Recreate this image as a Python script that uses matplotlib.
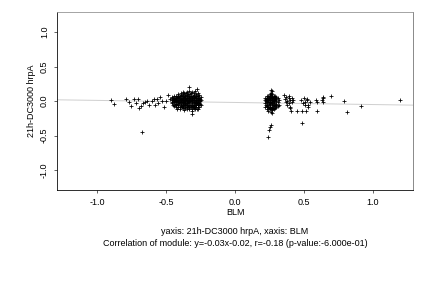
import numpy as np
import matplotlib
matplotlib.use('Agg')
import matplotlib.pyplot as plt

plt.rcParams['font.family'] = ['Liberation Sans', 'DejaVu Sans']

# --------------------------
# Data
# --------------------------
left_sparse_x = [-0.899, -0.875, -0.790, -0.768, -0.754, -0.732, -0.717, -0.703, -0.693, -0.679,
                 -0.669, -0.652, -0.636, -0.625, -0.604, -0.587, -0.578, -0.567, -0.556, -0.543,
                 -0.531, -0.514, -0.500, -0.483, -0.471, -0.672, -0.331, -0.278, -0.375, -0.309]
left_sparse_y = [0.014, -0.043, 0.025, -0.010, -0.072, 0.025, -0.025, 0.025, -0.106, -0.072,
                 -0.033, -0.014, 0.004, -0.054, 0.000, 0.025, -0.054, 0.033, -0.033, 0.054,
                 0.004, -0.091, 0.004, 0.083, 0.033, -0.445, 0.199, 0.174, 0.135, -0.188]

left_dense = {
    -0.46: [0.02, -0.03, 0.06],
    -0.455: [-0.01, 0.04],
    -0.45: [-0.05, 0.01, 0.04],
    -0.445: [0.07, -0.02],
    -0.44: [0.03, -0.07, 0.00],
    -0.435: [-0.04, 0.02, 0.05],
    -0.43: [0.05, -0.02, -0.09, 0.08],
    -0.425: [0.00, -0.06, 0.03],
    -0.42: [-0.04, 0.02, 0.06, -0.11],
    -0.415: [0.08, -0.01, -0.08],
    -0.41: [0.00, 0.04, -0.06, 0.10],
    -0.405: [-0.03, 0.06, 0.02],
    -0.40: [-0.08, 0.03, -0.02, 0.07, -0.12],
    -0.395: [0.00, -0.05, 0.09],
    -0.39: [0.05, -0.04, 0.01, 0.11, -0.07],
    -0.385: [-0.02, 0.03, -0.09, 0.07],
    -0.38: [-0.01, 0.08, -0.10, 0.04, -0.05],
    -0.375: [0.01, -0.03, 0.10, -0.07],
    -0.37: [0.02, -0.06, 0.12, 0.06, -0.02, -0.13],
    -0.365: [-0.04, 0.03, 0.08, -0.10],
    -0.36: [-0.03, 0.05, 0.09, -0.09, 0.00],
    -0.355: [0.01, -0.06, 0.11, 0.04],
    -0.35: [0.07, -0.05, 0.02, -0.11, 0.13, -0.01],
    -0.345: [-0.03, 0.05, -0.08, 0.09],
    -0.34: [-0.07, 0.04, 0.00, 0.10, -0.03],
    -0.335: [0.02, -0.05, 0.07, -0.10],
    -0.33: [0.03, -0.08, 0.15, -0.12, 0.06, -0.02],
    -0.325: [0.00, 0.10, -0.06, 0.04],
    -0.32: [-0.05, 0.01, 0.08, -0.09, 0.11],
    -0.315: [0.03, -0.02, 0.06, -0.12],
    -0.31: [0.05, -0.03, 0.13, -0.14, 0.00, -0.07],
    -0.305: [-0.05, 0.02, 0.08, -0.09],
    -0.30: [-0.01, 0.09, -0.10, 0.04, -0.05],
    -0.295: [0.01, -0.07, 0.11, 0.05],
    -0.29: [0.06, -0.08, 0.02, 0.14, -0.12, -0.03],
    -0.285: [-0.02, 0.04, 0.08, -0.06],
    -0.28: [-0.04, 0.10, 0.00, -0.09, 0.05],
    -0.275: [0.02, -0.03, 0.07, -0.12],
    -0.27: [0.03, -0.06, 0.12, -0.11, -0.01, 0.07],
    -0.265: [-0.05, 0.01, 0.04, -0.09],
    -0.26: [-0.03, 0.05, 0.01, -0.08, 0.09],
    -0.255: [0.00, -0.04, 0.03],
    -0.25: [0.02, -0.05, 0.06],
}

right_dense = {
    0.22: [0.02, -0.03, 0.05, -0.08],
    0.225: [0.00, -0.05, 0.03],
    0.23: [-0.05, 0.07, 0.00, -0.11, 0.04],
    0.235: [0.02, -0.07, 0.05, -0.02],
    0.24: [0.03, -0.09, -0.02, 0.08, -0.14],
    0.245: [-0.04, 0.01, 0.06, -0.10],
    0.25: [-0.06, 0.01, 0.10, -0.12, 0.05, -0.03],
    0.255: [0.03, -0.08, -0.01, 0.07],
    0.26: [0.04, -0.10, -0.01, 0.09, -0.16, 0.12],
    0.265: [-0.03, 0.02, 0.06, -0.12],
    0.27: [-0.04, 0.06, 0.01, -0.13, 0.10, -0.08],
    0.275: [0.00, -0.05, 0.04, -0.10],
    0.28: [0.02, -0.07, 0.08, -0.02, -0.11],
    0.285: [-0.03, 0.03, 0.06],
    0.29: [-0.05, 0.05, -0.10, 0.01, 0.07],
    0.295: [0.00, -0.06],
    0.30: [0.03, -0.04, -0.09, 0.06],
    0.31: [-0.02, 0.04, -0.07],
    0.32: [0.01, -0.05],
}

right_sparse_x = [0.36, 0.37, 0.37, 0.38, 0.38, 0.39, 0.39, 0.40, 0.40, 0.41, 0.41, 0.42,
                  0.357, 0.393, 0.399, 0.406, 0.447,
                  0.48, 0.49, 0.50, 0.51, 0.52, 0.53, 0.483, 0.512, 0.507, 0.531, 0.483, 0.519,
                  0.543, 0.587, 0.592, 0.628, 0.635, 0.640, 0.635, 0.597, 0.693, 0.792, 0.809,
                  0.915, 1.196,
                  0.266, 0.261, 0.254, 0.249, 0.241, 0.261, 0.266]
right_sparse_y = [0.03, -0.02, 0.06, 0.00, -0.06, 0.04, -0.03, 0.02, -0.08, 0.05, -0.01, 0.01,
                  0.087, 0.072, -0.106, -0.14, -0.14,
                  0.02, -0.03, 0.04, -0.01, 0.03, -0.05, -0.145, -0.145, -0.058, -0.083, -0.323, 0.014,
                  -0.01, 0.014, -0.02, 0.014, 0.04, -0.01, 0.054, -0.145, 0.072, 0.004, -0.164,
                  -0.077, 0.014,
                  -0.178, -0.348, -0.372, -0.42, -0.517, 0.16, 0.145]

slope, intercept = -0.03, -0.02
x_ticks = [-1.0, -0.5, 0.0, 0.5, 1.0]
y_ticks = [-1.0, -0.5, 0.0, 0.5, 1.0]

x_all = list(left_sparse_x) + list(right_sparse_x)
y_all = list(left_sparse_y) + list(right_sparse_y)
for grp in (left_dense, right_dense):
    for xv, ys in grp.items():
        x_all += [xv] * len(ys)
        y_all += ys

# --------------------------
# Figure
# --------------------------
fig = plt.figure(figsize=(6, 4), dpi=72)
ax = fig.add_axes([0.132, 0.34, 0.824, 0.618])
lim = 1.29
ax.set_xlim(-lim, lim)
ax.set_ylim(-lim, lim)

xl = np.array([-lim, lim])
ax.plot(xl, slope * xl + intercept, color='#d0d0d0', lw=1.0, zorder=1)
ax.plot(x_all, y_all, linestyle='none', marker='+', color='black',
        markersize=4.5, markeredgewidth=0.8, zorder=2)

ax.set_xticks(x_ticks)
ax.set_xticklabels([f'{v:.1f}' for v in x_ticks])
ax.set_yticks(y_ticks)
ax.set_yticklabels([f'{v:.1f}' for v in y_ticks], rotation=90, va='center')
ax.tick_params(labelsize=9, length=3, width=0.6, pad=5)

ax.spines['left'].set_color('black')
ax.spines['bottom'].set_color('black')
ax.spines['top'].set_color('#909090')
ax.spines['right'].set_color('#707070')
for s in ax.spines.values():
    s.set_linewidth(0.8)

ax.set_xlabel('BLM', fontsize=9, labelpad=1)
ax.set_ylabel('21h-DC3000 hrpA', fontsize=9, labelpad=4)

fig.text(0.544, 1 - 231 / 288, 'yaxis: 21h-DC3000 hrpA, xaxis: BLM',
         ha='center', va='center', fontsize=9)
fig.text(0.544, 1 - 244 / 288,
         'Correlation of module: y=-0.03x-0.02, r=-0.18 (p-value:-6.000e-01)',
         ha='center', va='center', fontsize=9)

fig.savefig('out.png', dpi=72, facecolor='white')
